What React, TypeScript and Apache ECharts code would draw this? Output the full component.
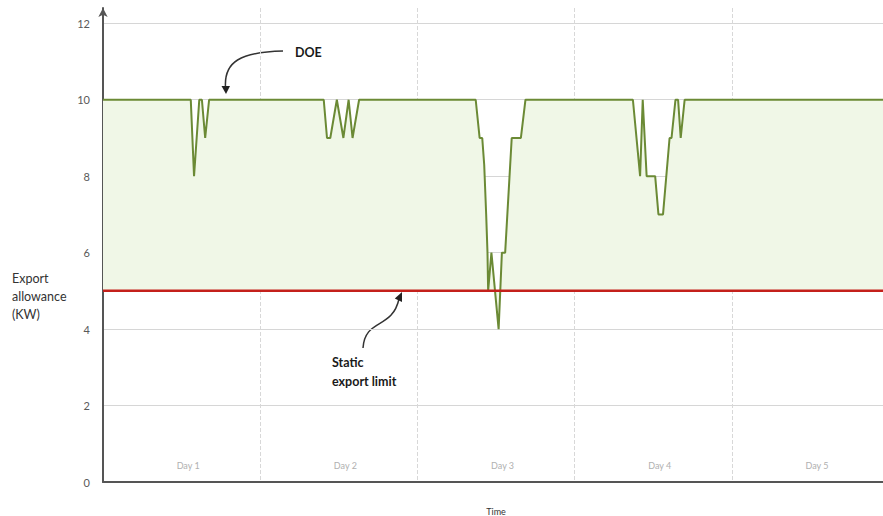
import React, { useEffect, useRef } from "react";
import * as echarts from "echarts";

// DOE export allowance (kW) over 5 days (x in hours)
const doeTime = [
  0, 13.4, 13.9, 14.7, 15.1, 15.6, 16.2,
  33.7, 34.2, 34.7, 35.7, 36.7, 37.5, 38.1, 39.1,
  56.9, 57.5, 57.9, 58.2, 58.5, 58.7, 58.8, 59.3, 60.4, 60.9, 61.4, 62.4, 63.8, 64.5,
  80.9, 82.0, 82.4, 83.0, 84.3, 84.8, 85.5, 86.5, 86.8, 87.4, 87.8, 88.2, 88.8,
  120,
];
const doeValue = [
  10, 10, 8, 10, 10, 9, 10,
  10, 9, 9, 10, 9, 10, 9, 10,
  10, 9, 9, 8.3, 7, 6, 5, 6, 4, 6, 6, 9, 9, 10,
  10, 8, 10, 8, 8, 7, 7, 9, 9, 10, 10, 9, 10,
  10,
];
const staticLimitTime = [0, 120];
const staticLimitValue = [5, 5];
const dayLabels = ["Day 1", "Day 2", "Day 3", "Day 4", "Day 5"];
const dayLabelPositions = [13, 37, 61, 85, 109];
const yTicks = [0, 2, 4, 6, 8, 10, 12];

const FONT = "Lato, 'Open Sans', sans-serif";

export default function App() {
  const ref = useRef<HTMLDivElement>(null);
  useEffect(() => {
    if (!ref.current) return;
    const chart = echarts.init(ref.current, null, { renderer: "svg" });
    const doeData = doeTime.map((t, i) => [t, doeValue[i]]);
    const staticData = staticLimitTime.map((t, i) => [t, staticLimitValue[i]]);
    chart.setOption({
      animation: false,
      backgroundColor: "#ffffff",
      textStyle: { fontFamily: FONT },
      grid: { left: 103, right: -6, top: 8, bottom: 34, containLabel: false, outerBoundsMode: "none" },
      xAxis: {
        type: "value",
        min: 0,
        max: 120,
        interval: 24,
        name: "Time",
        nameLocation: "middle",
        nameGap: 25,
        nameTextStyle: { fontSize: 9, color: "#333", fontFamily: FONT },
        axisLine: { show: true, lineStyle: { color: "#555", width: 2 } },
        axisTick: { show: false },
        splitLine: { show: true, lineStyle: { color: "#d8d8d8", type: "dashed", width: 1 } },
        axisLabel: {
          inside: true,
          margin: 12,
          customValues: dayLabelPositions,
          fontSize: 9,
          color: "#b0b0b0",
          fontFamily: FONT,
          formatter: (v: number) => {
            const i = dayLabelPositions.indexOf(v);
            return i >= 0 ? dayLabels[i] : "";
          },
        },
      },
      yAxis: {
        type: "value",
        min: 0,
        max: 12.4,
        interval: 2,
        axisLine: {
          show: true,
          lineStyle: { color: "#555", width: 2 },
          symbol: ["none", "arrow"],
          symbolSize: [7, 9],
        },
        axisTick: { show: false },
        splitLine: { show: true, showMaxLine: false, lineStyle: { color: "#d6d6d6", width: 1 } },
        axisLabel: {
          margin: 13,
          fontSize: 11,
          color: "#595959",
          fontFamily: FONT,
          showMaxLabel: false,
          formatter: (v: number) => (yTicks.indexOf(v) >= 0 ? String(v) : ""),
        },
      },
      series: [
        {
          name: "DOE",
          type: "line",
          data: doeData,
          showSymbol: false,
          symbol: "none",
          lineStyle: { color: "#6b8a35", width: 2 },
          itemStyle: { color: "#6b8a35" },
          areaStyle: { origin: 5, color: "#f0f7e7", opacity: 1 },
          z: 3,
        },
        {
          name: "Static export limit",
          type: "line",
          data: staticData,
          showSymbol: false,
          symbol: "none",
          lineStyle: { color: "#c4201b", width: 2.5 },
          itemStyle: { color: "#c4201b" },
          z: 4,
        },
      ],
      graphic: [
        {
          type: "text",
          left: 12,
          top: 269,
          style: {
            text: "Export\nallowance\n(KW)",
            fontSize: 12.5,
            lineHeight: 18,
            fill: "#333",
            fontFamily: FONT,
          },
        },
        {
          type: "text",
          x: 295,
          y: 52,
          style: {
            text: "DOE",
            fontSize: 12.5,
            fontWeight: "bold",
            fill: "#1a1a1a",
            fontFamily: FONT,
            verticalAlign: "middle",
          },
        },
        {
          type: "bezierCurve",
          shape: { x1: 283, y1: 51, cpx1: 240, cpy1: 52, cpx2: 224, cpy2: 62, x2: 225.5, y2: 87 },
          style: { stroke: "#333", lineWidth: 1.5, fill: "none" },
        },
        {
          type: "polygon",
          shape: { points: [[221.5, 86], [230, 86], [226, 94]] },
          style: { fill: "#222" },
        },
        {
          type: "text",
          x: 332,
          y: 353,
          style: {
            text: "Static\nexport limit",
            fontSize: 12.5,
            fontWeight: "bold",
            lineHeight: 19,
            fill: "#1a1a1a",
            fontFamily: FONT,
          },
        },
        {
          type: "bezierCurve",
          shape: { x1: 363, y1: 348, cpx1: 365, cpy1: 318, cpx2: 392, cpy2: 330, x2: 399, y2: 299 },
          style: { stroke: "#333", lineWidth: 1.5, fill: "none" },
        },
        {
          type: "polygon",
          shape: { points: [[402, 292], [394.8, 298.4], [402, 302]] },
          style: { fill: "#222" },
        },
        {
          type: "text",
          x: 769,
          y: 180,
          style: {
            text: "Additional export\nallowance under\nDOE",
            fontSize: 11,
            fontWeight: "bold",
            lineHeight: 15,
            fill: "#6e9e34",
            fontFamily: FONT,
          },
        },
      ],
    });
    return () => chart.dispose();
  }, []);
  return (
    <div
      ref={ref}
      style={{ position: "fixed", left: 0, top: 0, width: 883, height: 516, overflow: "hidden" }}
    />
  );
}
